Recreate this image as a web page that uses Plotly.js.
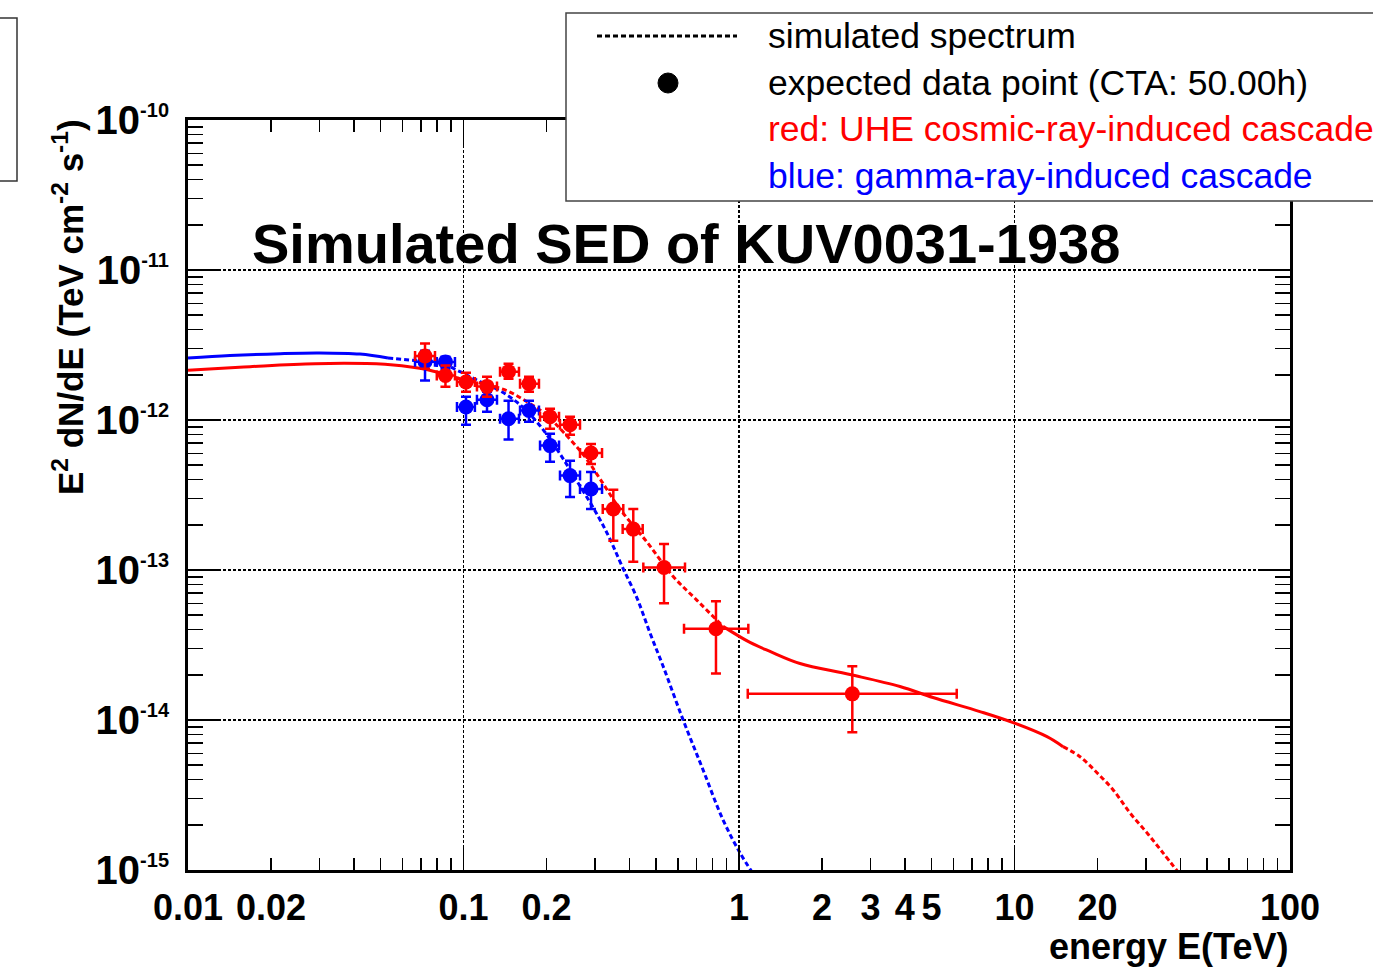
<!DOCTYPE html>
<html>
<head>
<meta charset="utf-8">
<script src="https://cdn.plot.ly/plotly-3.0.1.min.js"></script>
<style>html,body{margin:0;padding:0;background:#fff;}#chart{width:1373px;height:970px;}</style>
</head>
<body>
<div id="chart"></div>
<script>
// ---------- data points (energy in TeV, E^2 dN/dE in TeV cm^-2 s^-1) ----------
const redE    = [0.0725, 0.0860, 0.1021, 0.1217, 0.1457, 0.1729, 0.2061, 0.2436, 0.2903, 0.3498, 0.4133, 0.5344, 0.825, 2.578];
const redELo  = [0.0667, 0.0800, 0.0947, 0.1119, 0.1357, 0.1604, 0.1896, 0.2240, 0.2648, 0.3202, 0.3782, 0.4495, 0.6316, 1.076];
const redEHi  = [0.0788, 0.0931, 0.1100, 0.1323, 0.1590, 0.1879, 0.2222, 0.2648, 0.3183, 0.3802, 0.4472, 0.6368, 1.081, 6.17];
const redF    = [2.67e-12, 1.98e-12, 1.79e-12, 1.675e-12, 2.10e-12, 1.746e-12, 1.05e-12, 9.29e-13, 6.03e-13, 2.55e-13, 1.874e-13, 1.039e-13, 4.06e-14, 1.494e-14];
const redFHi  = [3.23e-12, 2.31e-12, 2.067e-12, 1.944e-12, 2.375e-12, 1.944e-12, 1.188e-12, 1.05e-12, 6.93e-13, 3.43e-13, 2.55e-13, 1.488e-13, 6.18e-14, 2.286e-14];
const redFLo  = [2.20e-12, 1.667e-12, 1.543e-12, 1.429e-12, 1.885e-12, 1.543e-12, 8.73e-13, 7.96e-13, 5.09e-13, 1.565e-13, 1.133e-13, 6.0e-14, 2.04e-14, 8.28e-15];

const blueE   = [0.0725, 0.0860, 0.1021, 0.1217, 0.1457, 0.1729, 0.2061, 0.2436, 0.2903];
const blueELo = [0.0667, 0.0800, 0.0947, 0.1119, 0.1357, 0.1604, 0.1896, 0.2240, 0.2648];
const blueEHi = [0.0788, 0.0931, 0.1100, 0.1323, 0.1590, 0.1879, 0.2222, 0.2648, 0.3183];
const blueF   = [2.45e-12, 2.44e-12, 1.22e-12, 1.365e-12, 1.019e-12, 1.157e-12, 6.75e-13, 4.26e-13, 3.47e-13];
const blueFHi = [2.90e-12, 2.645e-12, 1.43e-12, 1.543e-12, 1.343e-12, 1.343e-12, 8.09e-13, 5.36e-13, 4.50e-13];
const blueFLo = [1.837e-12, 2.20e-12, 9.29e-13, 1.135e-12, 7.41e-13, 9.73e-13, 5.26e-13, 3.07e-13, 2.55e-13];

// ---------- simulated spectra ----------
const blueCurveE = [0.0100, 0.0142, 0.0216, 0.0297, 0.0421, 0.0532, 0.0695, 0.0822, 0.0971, 0.1148, 0.1357, 0.1604, 0.1896, 0.2240, 0.2648, 0.3078, 0.3402, 0.3762, 0.4264, 0.4753, 0.5299, 0.6262, 0.7402, 0.8748, 1.0084, 1.115];
const blueCurveF = [2.59e-12, 2.69e-12, 2.77e-12, 2.80e-12, 2.75e-12, 2.59e-12, 2.47e-12, 2.40e-12, 2.10e-12, 1.80e-12, 1.567e-12, 1.263e-12, 9.15e-13, 5.94e-13, 3.63e-13, 2.29e-13, 1.607e-13, 1.06e-13, 6.5e-14, 3.8e-14, 2.29e-14, 1.006e-14, 4.66e-15, 2.16e-15, 1.30e-15, 9.7e-16];

const redCurveE = [0.0100, 0.01153, 0.01679, 0.0289, 0.0519, 0.0684, 0.0822, 0.0971, 0.1177, 0.1438, 0.1700, 0.1976, 0.2335, 0.2761, 0.3130, 0.3698, 0.4636, 0.5759, 0.7039, 0.8748, 1.096, 1.296, 1.665, 2.529, 3.84, 5.06, 7.49, 9.88, 13.12, 15.0, 17.29, 19.93, 22.78, 26.26, 30.27, 34.6, 39.23];
const redCurveF = [2.143e-12, 2.176e-12, 2.268e-12, 2.375e-12, 2.350e-12, 2.223e-12, 2.067e-12, 1.885e-12, 1.746e-12, 1.567e-12, 1.323e-12, 1.10e-12, 8.09e-13, 5.68e-13, 4.05e-13, 2.55e-13, 1.534e-13, 9.09e-14, 6.28e-14, 4.21e-14, 3.29e-14, 2.865e-14, 2.38e-14, 2.01e-14, 1.672e-14, 1.412e-14, 1.138e-14, 9.61e-15, 7.74e-15, 6.64e-15, 5.69e-15, 4.45e-15, 3.43e-15, 2.40e-15, 1.767e-15, 1.30e-15, 9.7e-16];

// ---------- tick labels ----------
const xLabelVals = [0.01, 0.02, 0.1, 0.2, 1, 2, 3, 4, 5, 10, 20, 100];
const xLabelText = ['0.01', '0.02', '0.1', '0.2', '1', '2', '3', '4', '5', '10', '20', '100'];
const yDecadeExp = [-15, -14, -13, -12, -11, -10];

// ---------- texts ----------
const titleText = 'Simulated SED of KUV0031-1938';
const xTitleText = 'energy E(TeV)';
const yTitleText = 'E<sup>2</sup> dN/dE (TeV cm<sup>-2</sup> s<sup>-1</sup>)';
const legendTexts = ['simulated spectrum', 'expected data point (CTA: 50.00h)', 'red: UHE cosmic-ray-induced cascade', 'blue: gamma-ray-induced cascade'];
const legendColors = ['#000000', '#000000', '#ff0000', '#0000ff'];

// ---------- helpers ----------
const FONT = 'Liberation Sans, Arial, Helvetica, sans-serif';
const RED = '#ff0000', BLUE = '#0000ff';
const r6 = v => Number(v.toPrecision(6));

const xMinorVals = [], xMinorText = [];
for (let k = -2; k <= 1; k++) for (let m = 1; m <= 9; m++) xMinorVals.push(r6(m * Math.pow(10, k)));
xMinorVals.push(100);
xMinorVals.forEach(v => {
  const i = xLabelVals.findIndex(l => Math.abs(l - v) / v < 1e-6);
  xMinorText.push(i >= 0 ? xLabelText[i] : '');
});
const yMinorVals = [], yMinorText = [];
for (let k = -15; k <= -11; k++) for (let m = 1; m <= 9; m++) {
  yMinorVals.push(r6(m * Math.pow(10, k)));
  yMinorText.push(m === 1 ? '10<sup><span style="font-size:20px">-' + (-k) + '</span></sup>' : '');
}
yMinorVals.push(1e-10);
yMinorText.push('10<sup><span style="font-size:20px">-10</span></sup>');
const yDecades = yDecadeExp.map(e => Math.pow(10, e));

function segment(E, F, lo, hi) {
  const x = [], y = [];
  E.forEach((e, i) => { if (e >= lo - 1e-9 && e <= hi + 1e-9) { x.push(e); y.push(F[i]); } });
  return {x, y};
}
function lineTrace(seg, color, dash) {
  return {x: seg.x, y: seg.y, type: 'scatter', mode: 'lines', xaxis: 'x', yaxis: 'y',
          line: {color: color, width: 3, dash: dash, shape: 'spline', smoothing: 1}, hoverinfo: 'skip'};
}
function pointsTrace(E, ELo, EHi, F, FLo, FHi, color) {
  return {
    x: E, y: F, type: 'scatter', mode: 'markers', xaxis: 'x2', yaxis: 'y2',
    marker: {color: color, size: 15, symbol: 'circle'},
    error_y: {type: 'data', symmetric: false, array: F.map((v, i) => FHi[i] - v), arrayminus: F.map((v, i) => v - FLo[i]), color: color, thickness: 2.5, width: 5},
    error_x: {type: 'data', symmetric: false, array: E.map((v, i) => EHi[i] - v), arrayminus: E.map((v, i) => v - ELo[i]), color: color, thickness: 2.5, width: 5},
    hoverinfo: 'skip'
  };
}
const DASH = '5px,3px';
const traces = [
  lineTrace(segment(blueCurveE, blueCurveF, 0, 0.0532), BLUE, 'solid'),
  lineTrace(segment(blueCurveE, blueCurveF, 0.0532, 1000), BLUE, DASH),
  lineTrace(segment(redCurveE, redCurveF, 0, 0.0822), RED, 'solid'),
  lineTrace(segment(redCurveE, redCurveF, 0.0822, 0.8748), RED, DASH),
  lineTrace(segment(redCurveE, redCurveF, 0.8748, 15.0), RED, 'solid'),
  lineTrace(segment(redCurveE, redCurveF, 15.0, 1000), RED, DASH),
  pointsTrace(blueE, blueELo, blueEHi, blueF, blueFLo, blueFHi, BLUE),
  pointsTrace(redE, redELo, redEHi, redF, redFLo, redFHi, RED)
];

// ---------- layout geometry (pixels -> paper) ----------
const L = 188, R = 1290, T = 120, B = 870;
const px = x => (x - L) / (R - L);
const py = y => (B - y) / (B - T);

const gridStyle = {showgrid: true, gridcolor: '#000', gridwidth: 1.4, griddash: '3px,2px'};
const layout = {
  width: 1373, height: 970, autosize: false,
  margin: {l: L, r: 1373 - R, t: T, b: 970 - B, pad: 0},
  paper_bgcolor: '#fff', plot_bgcolor: '#fff',
  showlegend: false,
  font: {family: FONT, color: '#000'},
  xaxis: {type: 'log', range: [-2, 2], tickmode: 'array', tickvals: xMinorVals, ticktext: xMinorText,
          ticks: 'inside', ticklen: 12, tickwidth: 1.5, tickcolor: '#000',
          showline: true, linewidth: 3, linecolor: '#000', mirror: 'ticks',
          showgrid: false, zeroline: false, ticklabelstandoff: 4,
          tickfont: {family: FONT, size: 36, color: '#000', weight: 'bold'}},
  xaxis2: Object.assign({type: 'log', range: [-2, 2], overlaying: 'x', side: 'bottom', tickmode: 'array', tickvals: [0.01, 0.1, 1, 10, 100],
          ticks: 'inside', ticklen: 25, tickwidth: 1.5, tickcolor: '#000', showticklabels: false,
          showline: false, mirror: 'ticks', zeroline: false}, gridStyle),
  yaxis: {type: 'log', range: [-15, -10], tickmode: 'array', tickvals: yMinorVals, ticktext: yMinorText,
          ticks: 'inside', ticklen: 15, tickwidth: 1.5, tickcolor: '#000',
          showline: true, linewidth: 3, linecolor: '#000', mirror: 'ticks',
          showgrid: false, zeroline: false, ticklabelstandoff: 8,
          tickfont: {family: FONT, size: 40, color: '#000', weight: 'bold'}},
  yaxis2: Object.assign({type: 'log', range: [-15, -10], overlaying: 'y', side: 'left', tickmode: 'array', tickvals: yDecades,
          ticks: 'inside', ticklen: 30, tickwidth: 1.5, tickcolor: '#000', showticklabels: false,
          showline: false, mirror: 'ticks', zeroline: false}, gridStyle),
  shapes: [
    {type: 'rect', xref: 'paper', yref: 'paper', x0: px(-20), x1: px(17), y0: py(181), y1: py(18),
     line: {color: '#333', width: 1.5}, fillcolor: 'rgba(0,0,0,0)', layer: 'above'},
    {type: 'rect', xref: 'paper', yref: 'paper', x0: px(566), x1: px(1400), y0: py(201), y1: py(13),
     line: {color: '#444', width: 1.5}, fillcolor: '#ffffff', layer: 'above'},
    {type: 'line', xref: 'paper', yref: 'paper', x0: px(597), x1: px(737), y0: py(36), y1: py(36),
     line: {color: '#000', width: 3, dash: '5px,3px'}, layer: 'above'},
    {type: 'circle', xref: 'paper', yref: 'paper', x0: px(658), x1: px(678), y0: py(93), y1: py(73),
     line: {color: '#000', width: 1}, fillcolor: '#000', layer: 'above'}
  ],
  annotations: [
    {text: titleText, xref: 'paper', yref: 'paper', x: px(686), y: py(243), xanchor: 'center', yanchor: 'middle',
     showarrow: false, font: {family: FONT, size: 56, color: '#000', weight: 'bold'}},
    {text: xTitleText, xref: 'paper', yref: 'paper', x: px(1290), y: py(946), xanchor: 'right', yanchor: 'middle',
     showarrow: false, font: {family: FONT, size: 36, color: '#000', weight: 'bold'}},
    {text: yTitleText, xref: 'paper', yref: 'paper', x: px(68), y: py(307), xanchor: 'center', yanchor: 'middle',
     textangle: -90, showarrow: false, font: {family: FONT, size: 35, color: '#000', weight: 'bold'}}
  ].concat(legendTexts.map((t, i) => ({
    text: t, xref: 'paper', yref: 'paper', x: px(766), y: py([36, 83, 129, 176][i]), xanchor: 'left', yanchor: 'middle',
    showarrow: false, font: {family: FONT, size: 35.5, color: legendColors[i]}
  })))
};

Plotly.newPlot('chart', traces, layout, {staticPlot: true, displayModeBar: false});
</script>
</body>
</html>
